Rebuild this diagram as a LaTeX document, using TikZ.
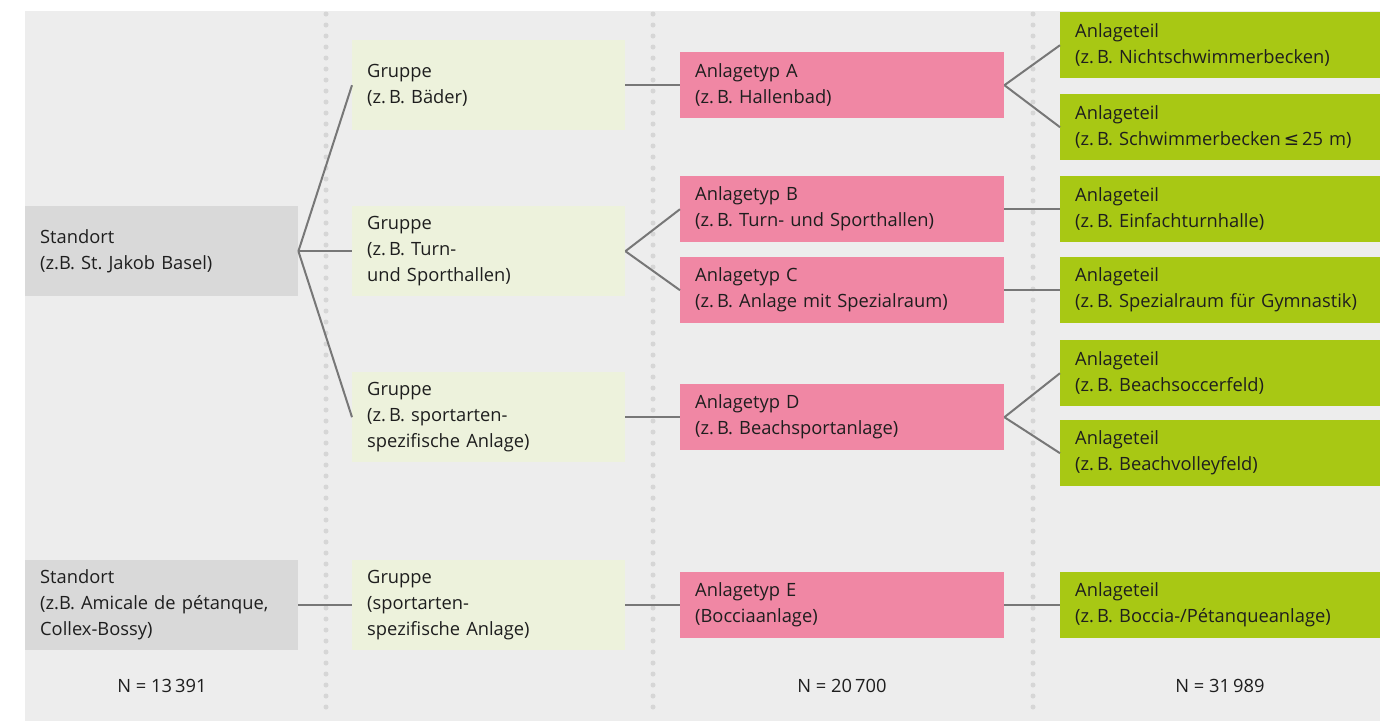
\documentclass[tikz,border=0pt]{standalone}
\usepackage{fontspec}
\setmainfont{Open Sans}
\newfontfamily\symfont{DejaVu Sans}
\frenchspacing
\definecolor{bggray}{HTML}{EDEDED}
\definecolor{dotgray}{HTML}{D6D6D6}
\definecolor{linegray}{HTML}{777777}
\definecolor{standfill}{HTML}{D9D9D9}
\definecolor{groupfill}{HTML}{EDF2DC}
\definecolor{typfill}{HTML}{F087A4}
\definecolor{teilfill}{HTML}{A8C814}
\definecolor{txt}{HTML}{1E1E1E}
\begin{document}
\begin{tikzpicture}[x=1pt,y=-1pt,
    box/.style={anchor=north west, inner xsep=15pt, inner ysep=0pt, align=left,
      text=txt, font=\fontsize{18.3}{26}\selectfont},
    standbox/.style={box, fill=standfill, text width=243pt, minimum height=90pt},
    groupbox/.style={box, fill=groupfill, text width=243pt, minimum height=90pt},
    typbox/.style={box, fill=typfill, text width=294pt, minimum height=66pt},
    teilbox/.style={box, fill=teilfill, text width=290pt, minimum height=66pt},
    dotline/.style={dotgray, line width=5pt, line cap=round, dash pattern=on 0pt off 11pt}]

  \useasboundingbox (0,0) rectangle (1389,721);
  \fill[bggray] (25,11) rectangle (1380,721);
  \foreach \x in {326,653,1033}
    \draw[dotline] (\x,14) -- (\x,718);

  % Standorte
  \node[standbox] (s1) at (25,206) {Standort\\(z.B. St. Jakob Basel)};
  \node[standbox] (s2) at (25,560) {Standort\\(z.B. Amicale de pétanque,\\Collex-Bossy)};

  % Gruppen
  \node[groupbox] (g1) at (352,40)  {Gruppe\\(z.\,B. Bäder)};
  \node[groupbox] (g2) at (352,206) {Gruppe\\(z.\,B. Turn-\\und Sporthallen)};
  \node[groupbox] (g3) at (352,372) {Gruppe\\(z.\,B. sportarten-\\spezifische Anlage)};
  \node[groupbox] (g4) at (352,560) {Gruppe\\(sportarten-\\spezifische Anlage)};

  % Anlagetypen
  \node[typbox] (a) at (680,52)  {Anlagetyp A\\(z.\,B. Hallenbad)};
  \node[typbox] (b) at (680,176) {Anlagetyp B\\(z.\,B. Turn- und Sporthallen)};
  \node[typbox] (c) at (680,257) {Anlagetyp C\\(z.\,B. Anlage mit Spezialraum)};
  \node[typbox] (d) at (680,384) {Anlagetyp D\\(z.\,B. Beachsportanlage)};
  \node[typbox] (e) at (680,572) {Anlagetyp E\\(Bocciaanlage)};

  % Anlageteile
  \node[teilbox] (t1) at (1060,12)  {Anlageteil\\(z.\,B. Nichtschwimmerbecken)};
  \node[teilbox] (t2) at (1060,94)  {Anlageteil\\(z.\,B. Schwimmerbecken\,{\symfont ≤}\,25 m)};
  \node[teilbox] (t3) at (1060,176) {Anlageteil\\(z.\,B. Einfachturnhalle)};
  \node[teilbox] (t4) at (1060,257) {Anlageteil\\(z.\,B. Spezialraum für Gymnastik)};
  \node[teilbox] (t5) at (1060,340) {Anlageteil\\(z.\,B. Beachsoccerfeld)};
  \node[teilbox] (t6) at (1060,420) {Anlageteil\\(z.\,B. Beachvolleyfeld)};
  \node[teilbox] (t7) at (1060,572) {Anlageteil\\(z.\,B. Boccia-/Pétanqueanlage)};

  \begin{scope}[every edge/.style={draw=linegray, line width=2pt}]
    \path (s1.east) edge (g1.west);
    \path (s1.east) edge (g2.west);
    \path (s1.east) edge (g3.west);
    \path (s2.east) edge (g4.west);
    \path (g1.east) edge (a.west);
    \path (g2.east) edge (b.west);
    \path (g2.east) edge (c.west);
    \path (g3.east) edge (d.west);
    \path (g4.east) edge (e.west);
    \path (a.east)  edge (t1.west);
    \path (a.east)  edge (t2.west);
    \path (b.east)  edge (t3.west);
    \path (c.east)  edge (t4.west);
    \path (d.east)  edge (t5.west);
    \path (d.east)  edge (t6.west);
    \path (e.east)  edge (t7.west);
  \end{scope}

  % Anzahl
  \begin{scope}[every node/.style={text=txt, font=\fontsize{18.3}{26}\selectfont}]
    \node (n1) at (162,686)  {N = 13\,391};
    \node (n2) at (842,686)  {N = 20\,700};
    \node (n3) at (1220,686) {N = 31\,989};
  \end{scope}

\end{tikzpicture}
\end{document}
